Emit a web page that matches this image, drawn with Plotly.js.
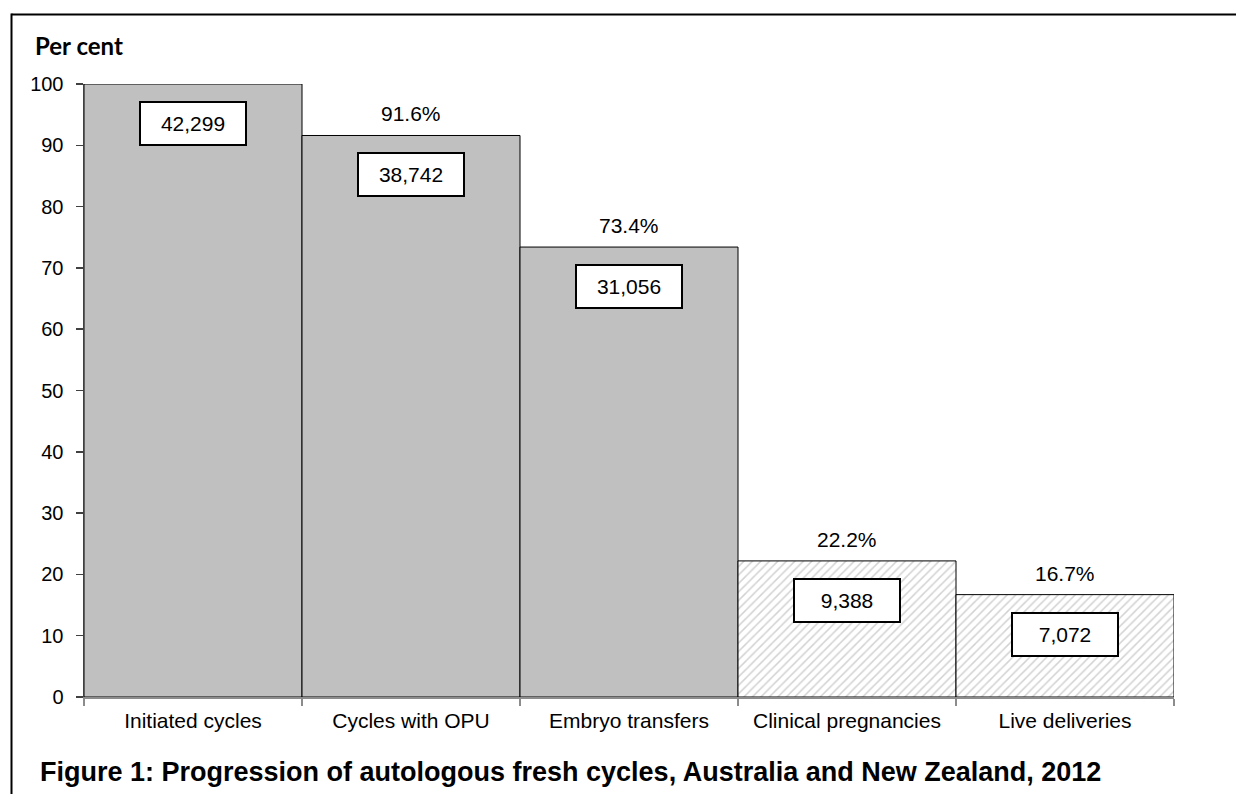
<!DOCTYPE html>
<html>
<head>
<meta charset="utf-8">
<script src="https://cdn.plot.ly/plotly-3.0.1.min.js"></script>
<style>
  html, body { margin: 0; padding: 0; background: #ffffff; }
  #chart { width: 1236px; height: 794px; }
</style>
</head>
<body>
<div id="chart"></div>
<script>
// Stages of autologous fresh cycles, 2012
const categories = ['Initiated cycles', 'Cycles with OPU', 'Embryo transfers', 'Clinical pregnancies', 'Live deliveries'];
const percents = [100, 91.6, 73.4, 22.2, 16.7];
const cycleCounts = [42299, 38742, 31056, 9388, 7072];
const hatched = [false, false, false, true, true];
const yTicks = [0, 10, 20, 30, 40, 50, 60, 70, 80, 90, 100];

const W = 1236, H = 794;
const M = { l: 84, r: 62, t: 83.5, b: 97 };
const plotW = W - M.l - M.r, plotH = H - M.t - M.b;
// pixel position -> paper fraction, for the frame and the axis caption
const px = v => (v - M.l) / plotW;
const py = v => (H - M.b - v) / plotH;

const ARIAL = '"Liberation Sans", Arial, sans-serif';

const pick = (arr, want) => arr.filter((_, i) => hatched[i] === want);

// treatment stages: solid grey
const solidBars = {
  type: 'bar',
  x: pick(categories, false),
  y: pick(percents, false),
  marker: { color: '#c0c0c0', line: { color: '#000000', width: 1 } },
  hoverinfo: 'x+y',
  showlegend: false
};

// outcome stages: light diagonal hatching
const hatchedBars = {
  type: 'bar',
  x: pick(categories, true),
  y: pick(percents, true),
  marker: {
    color: '#ffffff',
    line: { color: '#000000', width: 1 },
    pattern: {
      shape: '/',
      fgcolor: '#d2d2d2',
      bgcolor: '#ffffff',
      size: 6,
      solidity: 0.25
    }
  },
  hoverinfo: 'x+y',
  showlegend: false
};

const fmt = n => n.toLocaleString('en-US');

const annotations = [];
categories.forEach((c, i) => {
  // boxed cycle count inside each bar
  annotations.push({
    x: c, y: percents[i], xref: 'x', yref: 'y',
    yanchor: 'top', yshift: -17,
    text: fmt(cycleCounts[i]),
    showarrow: false,
    width: 102, height: 39,
    bgcolor: '#ffffff', bordercolor: '#000000', borderwidth: 2, borderpad: 1,
    font: { family: ARIAL, size: 21, color: '#000000' }
  });
  // share of initiated cycles above each later stage
  if (i > 0) {
    annotations.push({
      x: c, y: percents[i], xref: 'x', yref: 'y',
      yanchor: 'bottom', yshift: 8,
      text: percents[i].toFixed(1) + '%',
      showarrow: false,
      font: { family: ARIAL, size: 21, color: '#000000' }
    });
  }
});

annotations.push({
  xref: 'paper', yref: 'paper',
  x: px(33), y: py(45), xanchor: 'left', yanchor: 'middle',
  text: '<b>Per cent</b>', showarrow: false,
  font: { family: 'Lato, "Open Sans", sans-serif', size: 24, color: '#000000' }
});

const shapes = [
  // frame lines along the top and the left of the figure
  { type: 'line', xref: 'paper', yref: 'paper', x0: px(11.5), x1: px(W + 5), y0: py(14), y1: py(14),
    line: { color: '#000000', width: 2 } },
  { type: 'line', xref: 'paper', yref: 'paper', x0: px(11.5), x1: px(11.5), y0: py(13), y1: py(H + 5),
    line: { color: '#000000', width: 2 } }
];

const layout = {
  width: W, height: H,
  margin: M,
  paper_bgcolor: '#ffffff',
  plot_bgcolor: '#ffffff',
  barmode: 'overlay',
  bargap: 0,
  title: {
    text: '<b>Figure 1: Progression of autologous fresh cycles, Australia and New Zealand, 2012</b>',
    xref: 'container', yref: 'container',
    x: 40 / W, xanchor: 'left',
    y: 1 - 772 / H, yanchor: 'middle',
    font: { family: ARIAL, size: 27, color: '#000000' }
  },
  xaxis: {
    type: 'category',
    categoryorder: 'array',
    categoryarray: categories,
    range: [-0.5, categories.length - 0.5],
    showline: true, linecolor: '#8c8c8c', linewidth: 2,
    ticks: 'outside', tickson: 'boundaries', ticklen: 7, tickcolor: '#8c8c8c', tickwidth: 2,
    tickfont: { family: ARIAL, size: 21, color: '#000000' },
    ticklabelstandoff: 4,
    showgrid: false, zeroline: false, fixedrange: true
  },
  yaxis: {
    range: [0, 100],
    tickvals: yTicks,
    ticktext: yTicks.map(String),
    showline: true, linecolor: '#404040', linewidth: 1.5,
    ticks: 'outside', ticklen: 7, tickcolor: '#404040', tickwidth: 1.5,
    tickfont: { family: ARIAL, size: 20, color: '#000000' },
    ticklabelstandoff: 8,
    showgrid: false, zeroline: false, fixedrange: true
  },
  annotations: annotations,
  shapes: shapes
};

Plotly.newPlot('chart', [solidBars, hatchedBars], layout, { displayModeBar: false, staticPlot: true });
</script>
</body>
</html>
